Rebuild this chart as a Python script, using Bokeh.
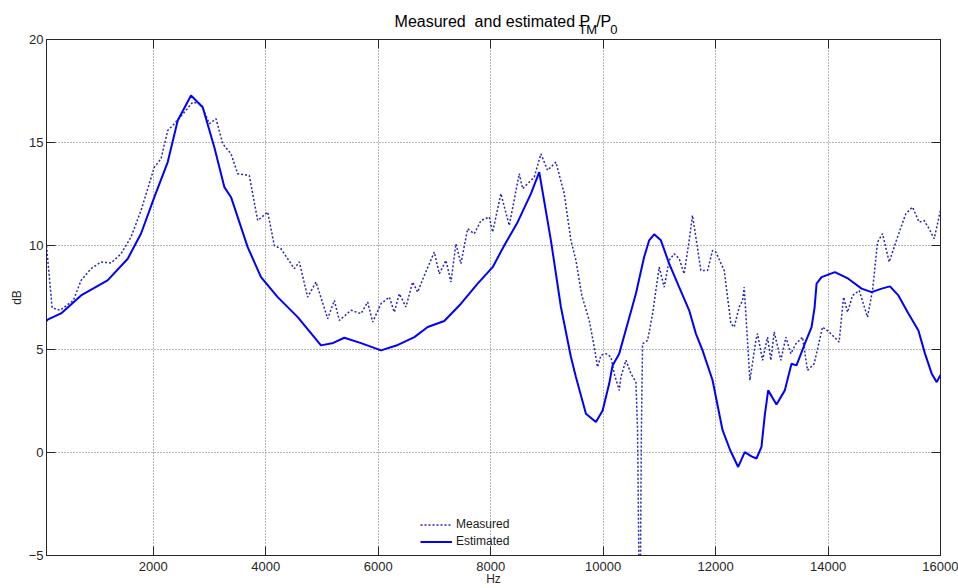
from bokeh.plotting import figure
from bokeh.layouts import column
from bokeh.models import (Range1d, FixedTicker, LinearAxis, Label, Legend,
                          LegendItem, ColumnDataSource)
from bokeh.embed import file_html
from bokeh.resources import INLINE

# ---------------- data ----------------
est_hz = [100, 119, 359, 715, 1186, 1545, 1782, 2018, 2256, 2434, 2670, 2878,
          3085, 3263, 3382, 3678, 3915, 4212, 4568, 4982, 5200, 5397, 5694,
          6050, 6350, 6643, 6880, 7175, 7471, 7768, 8035, 8241, 8479, 8716,
          8864, 9071, 9249, 9427, 9516, 9694, 9872, 9991, 10108, 10168, 10286,
          10434, 10582, 10729, 10819, 10908, 11027, 11174, 11352, 11530, 11649,
          11768, 11946, 12124, 12260, 12401, 12519, 12638, 12727, 12816,
          12875, 12935, 13083, 13231, 13350, 13439, 13587, 13707, 13760,
          13796, 13885, 14122, 14360, 14597, 14775, 14953, 15101, 15251,
          15429, 15607, 15724, 15844, 15933, 16000]
est_db = [6.35, 6.43, 6.73, 7.6, 8.33, 9.38, 10.6, 12.36, 14.06, 16.08, 17.29,
          16.72, 14.78, 12.85, 12.36, 9.94, 8.49, 7.52, 6.55, 5.18, 5.3, 5.55,
          5.29, 4.94, 5.2, 5.58, 6.07, 6.36, 7.2, 8.17, 8.97, 10.02, 11.15,
          12.53, 13.57, 10.27, 7.04, 4.62, 3.65, 1.87, 1.47, 2.03, 3.33, 4.21,
          4.78, 6.23, 7.68, 9.46, 10.27, 10.56, 10.27, 9.14, 8.0, 6.88, 5.75,
          4.94, 3.49, 1.07, 0.1, -0.71, 0.01, -0.2, -0.3, 0.26, 1.8, 3.0, 2.32,
          3.0, 4.29, 4.21, 5.26, 6.07, 7.0, 8.17, 8.49, 8.73, 8.41, 7.93, 7.76,
          7.93, 8.04, 7.6, 6.72, 5.9, 4.78, 3.81, 3.4, 3.75]

meas_hz = [100, 150, 200, 343, 578, 715, 893, 1070, 1248, 1426, 1604, 1782,
           2018, 2137, 2256, 2374, 2552, 2700, 2848, 2996, 3115, 3234, 3382,
           3500, 3707, 3856, 4034, 4152, 4270, 4507, 4596, 4745, 4893, 5101,
           5219, 5308, 5516, 5694, 5812, 5901, 6049, 6197, 6286, 6375, 6493,
           6612, 6701, 6820, 6997, 7086, 7205, 7293, 7382, 7471, 7590, 7708,
           7827, 7975, 8035, 8182, 8330, 8508, 8568, 8775, 8893, 9012, 9160,
           9308, 9427, 9516, 9620, 9753, 9842, 9901, 9961, 10049, 10138,
           10197, 10286, 10316, 10405, 10494, 10583, 10612, 10635, 10650,
           10665, 10680, 10701, 10790, 10879, 10997, 11086, 11174, 11263,
           11352, 11441, 11530, 11589, 11649, 11738, 11857, 11946, 12005,
           12153, 12272, 12331, 12420, 12480, 12509, 12610, 12716, 12746,
           12835, 12924, 12983, 13042, 13161, 13250, 13339, 13428, 13546,
           13635, 13753, 13902, 14020, 14197, 14276, 14347, 14436, 14554,
           14702, 14791, 14880, 14969, 15087, 15236, 15383, 15502, 15620,
           15709, 15798, 15887, 16000]
meas_db = [10.0, 8.5, 7.0, 6.88, 7.36, 8.33, 8.9, 9.22, 9.17, 9.62, 10.43,
           11.72, 13.82, 14.22, 15.59, 15.92, 16.48, 16.96, 16.88, 15.92,
           16.16, 14.95, 14.46, 13.5, 13.41, 11.23, 11.64, 10.02, 9.86, 8.9,
           9.22, 7.52, 8.25, 6.47, 7.36, 6.39, 6.88, 6.72, 7.28, 6.31, 7.2,
           7.52, 6.79, 7.68, 7.04, 8.25, 7.76, 8.57, 9.7, 8.65, 9.3, 8.25,
           10.1, 9.14, 10.83, 10.59, 11.23, 11.4, 10.67, 12.53, 10.99, 13.5,
           12.77, 13.33, 14.46, 13.66, 14.06, 12.53, 10.27, 9.3, 7.6, 6.39,
           5.1, 4.13, 4.7, 4.78, 4.62, 3.81, 3.0, 3.65, 4.46, 3.81, 3.4, 1.07,
           -5.0, -10.0, -5.0, 1.0, 5.26, 5.42, 6.71, 8.97, 8.0, 9.3, 9.62,
           9.38, 8.65, 10.27, 11.48, 10.43, 8.81, 8.81, 9.78, 9.7, 8.81, 6.23,
           6.07, 7.04, 7.36, 8.0, 3.49, 5.42, 5.75, 4.46, 5.58, 4.46, 5.83,
           4.46, 5.58, 4.78, 5.26, 5.58, 3.97, 4.29, 6.07, 5.83, 5.34, 7.52,
           6.79, 7.6, 7.84, 6.55, 7.84, 10.18, 10.59, 9.22, 10.43, 11.56,
           11.88, 11.15, 11.23, 10.83, 10.35, 11.72]

x_ticks = [2000, 4000, 6000, 8000, 10000, 12000, 14000, 16000]
y_ticks = [-5, 0, 5, 10, 15, 20]
x_lim = (100, 16000)
y_lim = (-5, 20)

series_names = ["Measured", "Estimated"]
title_parts = ["Measured\u00a0 and estimated P", "TM", "/P", "0"]
x_label, y_label = "Hz", "dB"

# ---------------- styling ----------------
FONT = "Liberation Sans"
AX = "#262626"
W, H_TITLE, OVERLAP = 958, 40, 15
H_MAIN = 588 - H_TITLE + OVERLAP

# title strip (subscripted title needs several text pieces)
tf = figure(width=W, height=H_TITLE, output_backend="svg", toolbar_location=None,
            x_range=Range1d(0, W), y_range=Range1d(H_TITLE, 0), title=None,
            x_axis_location=None, y_axis_location=None,
            min_border_left=0, min_border_right=0, min_border_top=0,
            min_border_bottom=0)
tf.outline_line_color = None
for g in tf.grid:
    g.visible = False
for text, xx, yy, size in ((title_parts[0], 373, 21, "16px"),
                           (title_parts[1], 570, 29, "13px"),
                           (title_parts[2], 589, 21, "16px"),
                           (title_parts[3], 604, 29, "13px")):
    tf.add_layout(Label(x=xx, y=yy, text=text, text_font=FONT, text_font_size=size,
                        text_color="#000000", text_baseline="alphabetic",
                        text_align="left"))

fig = figure(width=W, height=H_MAIN, output_backend="svg", toolbar_location=None,
             x_range=Range1d(*x_lim), y_range=Range1d(*y_lim), title=None,
             min_border_left=46, min_border_right=18,
             min_border_top=39 - (H_TITLE - OVERLAP), min_border_bottom=33,
             margin=(-OVERLAP, 0, 0, 0))
fig.background_fill_color = "white"
fig.border_fill_alpha = 0
fig.outline_line_color = AX
fig.outline_line_width = 1

for ax in (fig.xaxis[0], fig.yaxis[0]):
    ax.major_tick_in = 9
    ax.major_tick_out = 0
    ax.minor_tick_line_color = None
    ax.axis_line_color = AX
    ax.major_tick_line_color = AX
    ax.major_label_text_font = FONT
    ax.major_label_text_font_size = "13px"
    ax.major_label_text_color = AX
    ax.axis_label_text_font = FONT
    ax.axis_label_text_font_size = "12px"
    ax.axis_label_text_font_style = "normal"
    ax.axis_label_text_color = AX
fig.xaxis.ticker = FixedTicker(ticks=x_ticks)
fig.yaxis.ticker = FixedTicker(ticks=y_ticks)
fig.xaxis.major_label_standoff = 6
fig.yaxis.major_label_standoff = 3
fig.xaxis.axis_label = x_label
fig.yaxis.axis_label = y_label
fig.xaxis.axis_label_standoff = -2
fig.yaxis.axis_label_standoff = 2

for loc, tk in (("above", x_ticks), ("right", y_ticks)):
    a = LinearAxis(ticker=FixedTicker(ticks=tk), major_tick_in=9, major_tick_out=0,
                   minor_tick_line_color=None, axis_line_color=AX,
                   major_tick_line_color=AX, major_label_text_font_size="0px",
                   major_label_text_color=None, major_label_standoff=0)
    fig.add_layout(a, loc)

for g in (fig.xgrid[0], fig.ygrid[0]):
    g.grid_line_color = "#6e6e6e"
    g.grid_line_dash = "1 2"
    g.grid_line_width = 1

src_m = ColumnDataSource(dict(x=meas_hz, y=meas_db))
src_e = ColumnDataSource(dict(x=est_hz, y=est_db))
r_m = fig.line("x", "y", source=src_m, line_color="#2424c0", line_width=1.5,
               line_dash="2 2")
r_e = fig.line("x", "y", source=src_e, line_color="#0000ff", line_width=2)

legend = Legend(items=[LegendItem(label=series_names[0], renderers=[r_m]),
                       LegendItem(label=series_names[1], renderers=[r_e])],
                location=(374, 5.5), orientation="vertical",
                glyph_width=32, glyph_height=17, label_height=17,
                label_standoff=4, spacing=0, padding=0, margin=0,
                label_text_font=FONT, label_text_font_size="12px",
                label_text_color="#1a1a1a",
                background_fill_alpha=0, border_line_alpha=0)
fig.add_layout(legend)

p = column(tf, fig, spacing=0)

open("out.html", "w").write(file_html(p, INLINE))
